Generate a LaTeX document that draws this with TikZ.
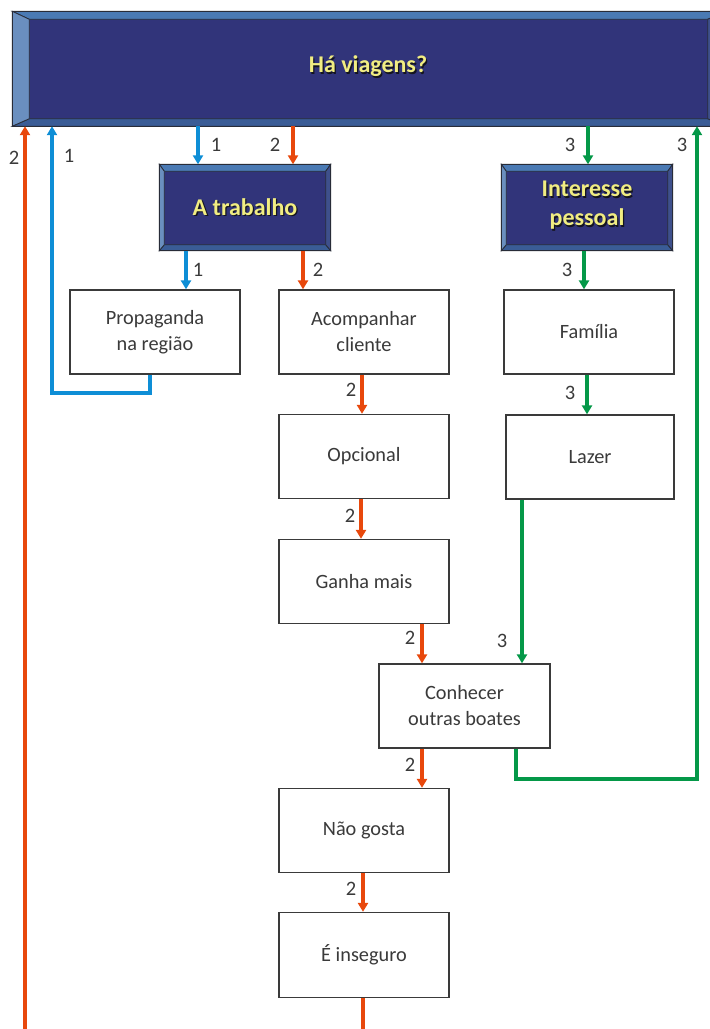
\documentclass[tikz,border=0pt]{standalone}
\usepackage{fontspec}
\setmainfont{Carlito}
\usetikzlibrary{arrows.meta,calc}

\definecolor{navy}{RGB}{49,52,122}
\definecolor{bevtop}{RGB}{74,122,180}
\definecolor{bevleft}{RGB}{106,143,191}
\definecolor{bevbot}{RGB}{58,92,150}
\definecolor{bevright}{RGB}{62,80,140}
\definecolor{edge}{RGB}{40,44,56}
\definecolor{titleyel}{RGB}{241,237,130}
\definecolor{shadowc}{RGB}{20,20,30}
\definecolor{txtgray}{RGB}{58,58,58}
\definecolor{lnred}{RGB}{232,72,12}
\definecolor{lnblue}{RGB}{14,142,214}
\definecolor{lngreen}{RGB}{4,152,72}

% yellow bold text with a small drop shadow
\newcommand\shadowtxt[1]{\makebox[0pt][l]{\kern1.3pt\raisebox{-1.3pt}{\color{shadowc}#1}}{\color{titleyel}#1}}

% bevelled frame around a named node: left, top, right, bottom widths
\newcommand\bevels[5]{%
  \fill[bevtop,draw=edge,line width=0.8pt] (#1.north west) -- (#1.north east) -- ($(#1.north east)+(-#4,#3)$) -- ($(#1.north west)+(#2,#3)$) -- cycle;
  \fill[bevbot,draw=edge,line width=0.8pt] (#1.south west) -- (#1.south east) -- ($(#1.south east)+(-#4,-#5)$) -- ($(#1.south west)+(#2,-#5)$) -- cycle;
  \fill[bevleft,draw=edge,line width=0.8pt] (#1.north west) -- ($(#1.north west)+(#2,#3)$) -- ($(#1.south west)+(#2,-#5)$) -- (#1.south west) -- cycle;
  \fill[bevright,draw=edge,line width=0.8pt] (#1.north east) -- ($(#1.north east)+(-#4,#3)$) -- ($(#1.south east)+(-#4,-#5)$) -- (#1.south east) -- cycle;
  \draw[edge,line width=1.4pt] (#1.north west) rectangle (#1.south east);
}

\tikzset{
  navybox/.style={rectangle, fill=navy, draw=edge, line width=1.4pt, inner sep=0pt},
  navytxt/.style={font=\fontsize{24}{29}\selectfont\bfseries, align=center, inner sep=0pt},
  plainbox/.style={rectangle, fill=white, draw=txtgray, line width=1.3pt, inner sep=0pt,
    minimum width=170pt, minimum height=84pt, text=txtgray,
    font=\fontsize{20.3}{26}\selectfont, align=center},
  lbl/.style={text=txtgray, font=\fontsize{20.5}{22}\selectfont, inner sep=0pt},
  tip/.style={-{Triangle[width=10pt,length=9pt]}},
  conn/.style={line width=3.3pt},
  rd/.style={conn, draw=lnred},
  bl/.style={conn, draw=lnblue},
  gr/.style={conn, draw=lngreen},
}

\begin{document}
\begin{tikzpicture}[x=1pt,y=-1pt]
\useasboundingbox (0,0) rectangle (710,1029);
\clip (0,0) rectangle (710,1029);

% column positions of the vertical connectors
\coordinate (xRedL) at (25,0);
\coordinate (xBluL) at (52,0);
\coordinate (xBlu1) at (198,0);
\coordinate (xRed1) at (293,0);
\coordinate (xBlu2) at (186,0);
\coordinate (xRed2) at (303,0);
\coordinate (xBlu3) at (150,0);
\coordinate (xGrn1) at (588,0);
\coordinate (xGrn2) at (584,0);
\coordinate (xGrn3) at (587,0);
\coordinate (xRed3) at (362,0);
\coordinate (xRed4) at (361,0);
\coordinate (xRed5) at (422,0);
\coordinate (xRed6) at (363,0);
\coordinate (xGrn4) at (522,0);
\coordinate (xGrn5) at (516,0);
\coordinate (xGrnR) at (697,0);
\coordinate (yBlu) at (0,393);
\coordinate (yGrn) at (0,779);
\coordinate (yBot) at (0,1045);

% header boxes
\node[navybox, minimum width=711pt, minimum height=113.5pt] (top) at (368.5,68.75) {};
\bevels{top}{17}{8}{17}{7.5}
\node[navytxt] (toptxt) at (368,67) {\shadowtxt{Há viagens?}};

\node[navybox, minimum width=170pt, minimum height=85pt] (work) at (245,207.5) {};
\bevels{work}{5}{7}{5}{6}
\node[navytxt] (worktxt) at (245,208) {\shadowtxt{A trabalho}};

\node[navybox, minimum width=170pt, minimum height=85pt] (pers) at (587,207.5) {};
\bevels{pers}{5}{7}{5}{6}
\node[navytxt] (perstxt) at (587,206) {\shadowtxt{Interesse}\\\shadowtxt{pessoal}};

% plain boxes
\node[plainbox] (prop) at (155,332) {Propaganda\\na região};
\node[plainbox] (acomp) at (364,332) {Acompanhar\\cliente};
\node[plainbox] (fam) at (589,332) {Família};
\node[plainbox] (opc) at (364,456.5) {Opcional};
\node[plainbox, minimum width=168pt] (lazer) at (590,457) {Lazer};
\node[plainbox] (ganha) at (364,581.5) {Ganha mais};
\node[plainbox, minimum width=171pt] (conh) at (464.5,706) {Conhecer\\outras boates};
\node[plainbox] (nao) at (364,830.5) {Não gosta};
\node[plainbox, minimum height=85pt] (ins) at (364,955) {É inseguro};

% path 1 (blue)
\draw[bl,tip] (top.south -| xBlu1) -- (work.north -| xBlu1);
\draw[bl,tip] (work.south -| xBlu2) -- (prop.north -| xBlu2);
\draw[bl,tip] (prop.south -| xBlu3) -- (yBlu -| xBlu3) -| (top.south -| xBluL);

% path 2 (red)
\draw[rd,tip] (top.south -| xRed1) -- (work.north -| xRed1);
\draw[rd,tip] (work.south -| xRed2) -- (acomp.north -| xRed2);
\draw[rd,tip] (acomp.south -| xRed3) -- (opc.north -| xRed3);
\draw[rd,tip] (opc.south -| xRed4) -- (ganha.north -| xRed4);
\draw[rd,tip] (ganha.south -| xRed5) -- (conh.north -| xRed5);
\draw[rd,tip] (conh.south -| xRed5) -- (nao.north -| xRed5);
\draw[rd,tip] (nao.south -| xRed6) -- (ins.north -| xRed6);
\draw[rd,tip] (ins.south -| xRed6) -- (yBot -| xRed6) -| (top.south -| xRedL);

% path 3 (green)
\draw[gr,tip] (top.south -| xGrn1) -- (pers.north -| xGrn1);
\draw[gr,tip] (pers.south -| xGrn2) -- (fam.north -| xGrn2);
\draw[gr,tip] (fam.south -| xGrn3) -- (lazer.north -| xGrn3);
\draw[gr,tip] (lazer.south -| xGrn4) -- (conh.north -| xGrn4);
\draw[gr,tip] (conh.south -| xGrn5) -- (yGrn -| xGrn5) -| (top.south -| xGrnR);

% path numbers
\node[lbl] (n1) at (216,145) {1};
\node[lbl] (n2) at (275,145) {2};
\node[lbl] (n3) at (570,145) {3};
\node[lbl] (n4) at (682,145) {3};
\node[lbl] (n5) at (14,158) {2};
\node[lbl] (n6) at (69,156) {1};
\node[lbl] (n7) at (198,270) {1};
\node[lbl] (n8) at (318,270) {2};
\node[lbl] (n9) at (567,270) {3};
\node[lbl] (n10) at (351,390) {2};
\node[lbl] (n11) at (570,393) {3};
\node[lbl] (n12) at (350,516) {2};
\node[lbl] (n13) at (410,638) {2};
\node[lbl] (n14) at (502,641) {3};
\node[lbl] (n15) at (410,765) {2};
\node[lbl] (n16) at (351,889) {2};
\end{tikzpicture}
\end{document}
